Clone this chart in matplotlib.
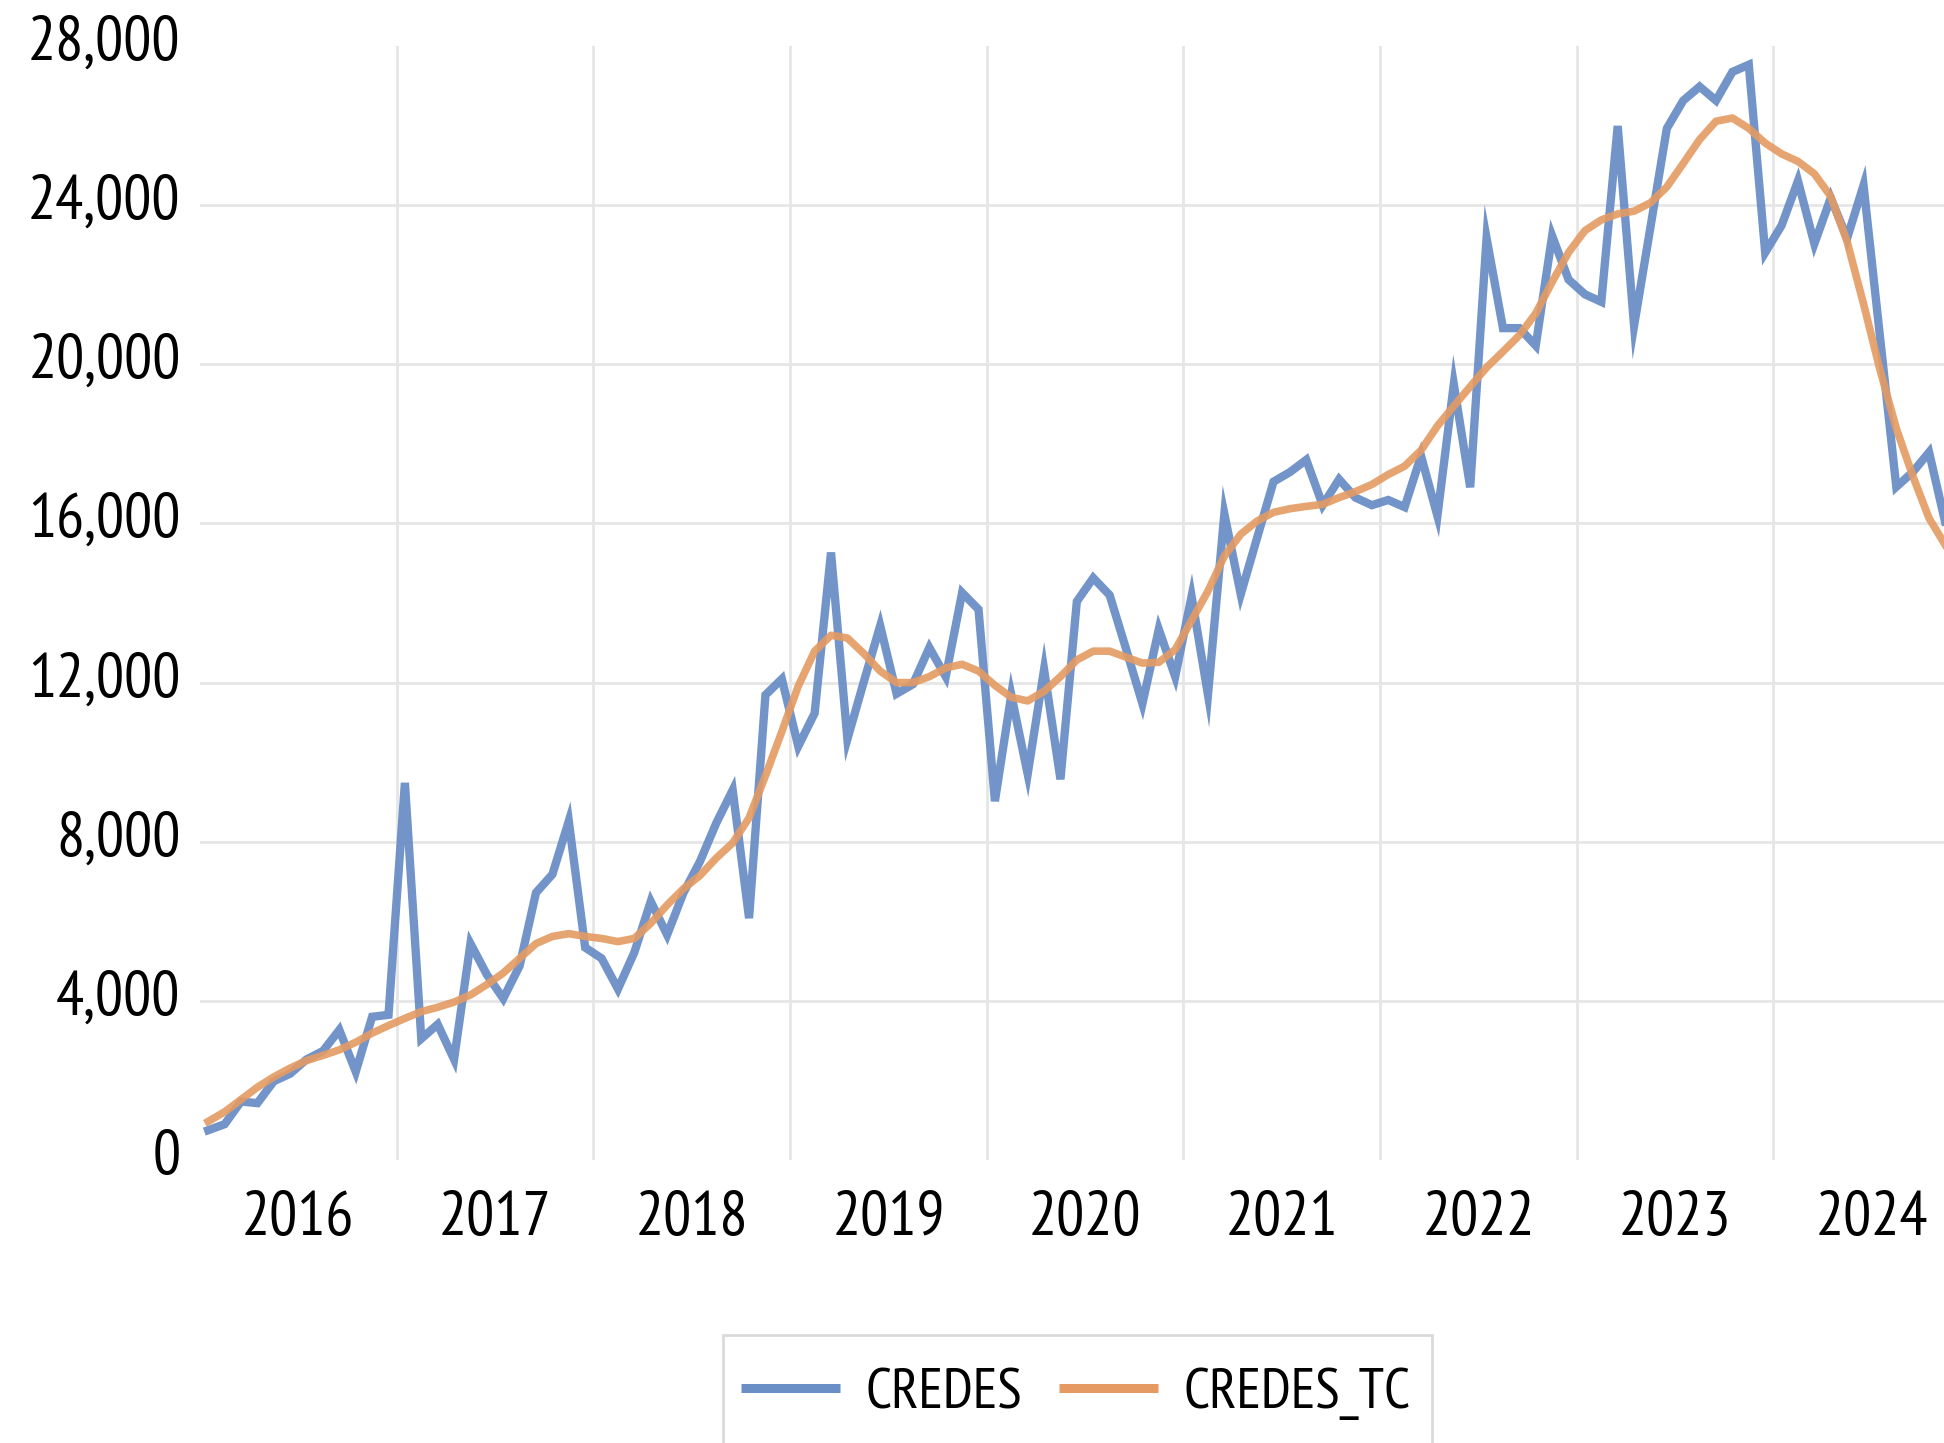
import numpy as np
import matplotlib
matplotlib.use('Agg')
from matplotlib import pyplot as plt
from matplotlib.patches import Rectangle
from matplotlib.lines import Line2D
from matplotlib.ticker import FuncFormatter
import matplotlib.transforms as mtransforms

plt.rcParams['font.family'] = ['PT Sans Narrow', 'DejaVu Sans']

# monthly series, Jan 2016 .. Nov 2024
credes = [750, 900, 1470, 1430, 1980, 2170, 2530, 2740, 3270, 2220, 3600, 3650,
          9480, 3050, 3410, 2530, 5440, 4660, 4060, 4880, 6720, 7180, 8520, 5340,
          5070, 4300, 5220, 6500, 5660, 6720, 7500, 8470, 9300, 6080, 11690, 12090,
          10400, 11230, 15270, 10580, 12020, 13430, 11720, 11960, 12880, 12150, 14260, 13840,
          9020, 11690, 9700, 12330, 9570, 14040, 14630, 14200, 12850, 11470, 13340, 12150,
          14170, 11690, 16240, 14220, 15640, 17050, 17290, 17600, 16460, 17110, 16650, 16460,
          16590, 16410, 17700, 16190, 19500, 16910, 23170, 20910, 20910, 20470, 23230, 22130,
          21760, 21570, 25990, 20970, 23450, 25930, 26630, 26980, 26630, 27350, 27530, 22810,
          23490, 24610, 23030, 24180, 23170, 24500, 20710, 16920, 17290, 17790, 16000]
credes_tc = [970, 1210, 1520, 1830, 2090, 2310, 2500, 2630, 2770, 2960, 3190, 3380,
             3560, 3730, 3840, 3970, 4150, 4410, 4700, 5070, 5440, 5620, 5690, 5620,
             5570, 5490, 5570, 5950, 6410, 6820, 7150, 7590, 7970, 8600, 9660, 10770,
             11910, 12790, 13190, 13120, 12730, 12290, 12000, 12000, 12150, 12370, 12460, 12290,
             11930, 11630, 11540, 11780, 12150, 12570, 12790, 12790, 12640, 12490, 12510, 12830,
             13560, 14300, 15180, 15730, 16060, 16280, 16370, 16430, 16480, 16650, 16800, 16980,
             17230, 17440, 17840, 18450, 18950, 19440, 19920, 20320, 20730, 21280, 22070, 22810,
             23360, 23630, 23780, 23850, 24060, 24460, 25050, 25650, 26110, 26190, 25930, 25560,
             25290, 25100, 24790, 24220, 23080, 21520, 19870, 18390, 17200, 16130, 15450]
years = ['2016', '2017', '2018', '2019', '2020', '2021', '2022', '2023', '2024']
yticks = [0, 4000, 8000, 12000, 16000, 20000, 24000, 28000]

blue = '#6A8EC6'
orange = '#E49A62'
grid_c = '#E6E6E6'
fs = 45
fs_leg = 41

fig = plt.figure(figsize=(19.44, 14.43), dpi=100)
# right edge of the plot runs past the picture, like the cropped original
ax = fig.add_axes([0.1029, 0.1961, 0.9105, 0.7720])

x = np.arange(len(credes))
n_months = len(years) * 12

for v in yticks[1:-1]:
    ax.axhline(v, color=grid_c, lw=2, zorder=0)
for k in range(1, len(years)):
    ax.axvline(k * 12 - 0.5, color=grid_c, lw=2, zorder=0)

ax.plot(x, credes, color=blue, lw=6, alpha=0.95, zorder=3, solid_joinstyle='miter')
ax.plot(x, credes_tc, color=orange, lw=5.5, alpha=0.9, zorder=4)

ax.set_xlim(-0.5, n_months - 0.5)
ax.set_ylim(0, 28000)
ax.set_yticks(yticks)
ax.yaxis.set_major_formatter(FuncFormatter(lambda v, p: f'{int(v):,}'))
ax.set_xticks(np.arange(len(years)) * 12 + 5.5)
ax.set_xticklabels(years)
ax.tick_params(axis='both', length=0, labelsize=fs)
ax.tick_params(axis='y', pad=14)
ax.tick_params(axis='x', pad=22)
for s in ax.spines.values():
    s.set_visible(False)

# y labels sit a little above their gridlines
up = mtransforms.ScaledTranslation(0, 6 / 72, fig.dpi_scale_trans)
for lab in ax.get_yticklabels():
    lab.set_transform(lab.get_transform() + up)

handles = [Line2D([], [], color=blue, lw=6.5, solid_capstyle='butt'),
           Line2D([], [], color=orange, lw=6.5, solid_capstyle='butt')]
fig.legend(handles, ['CREDES', 'CREDES_TC'], loc='center', bbox_to_anchor=(0.5533, 0.034),
           ncol=2, frameon=False, fontsize=fs_leg, handlelength=1.74, handletextpad=0.45,
           columnspacing=0.65)
box = Rectangle((0.3719, -0.05), 0.3647, 0.1248, transform=fig.transFigure,
                fill=False, edgecolor='#DADADA', lw=2)
fig.patches.append(box)

fig.savefig('out.png', dpi=100)
